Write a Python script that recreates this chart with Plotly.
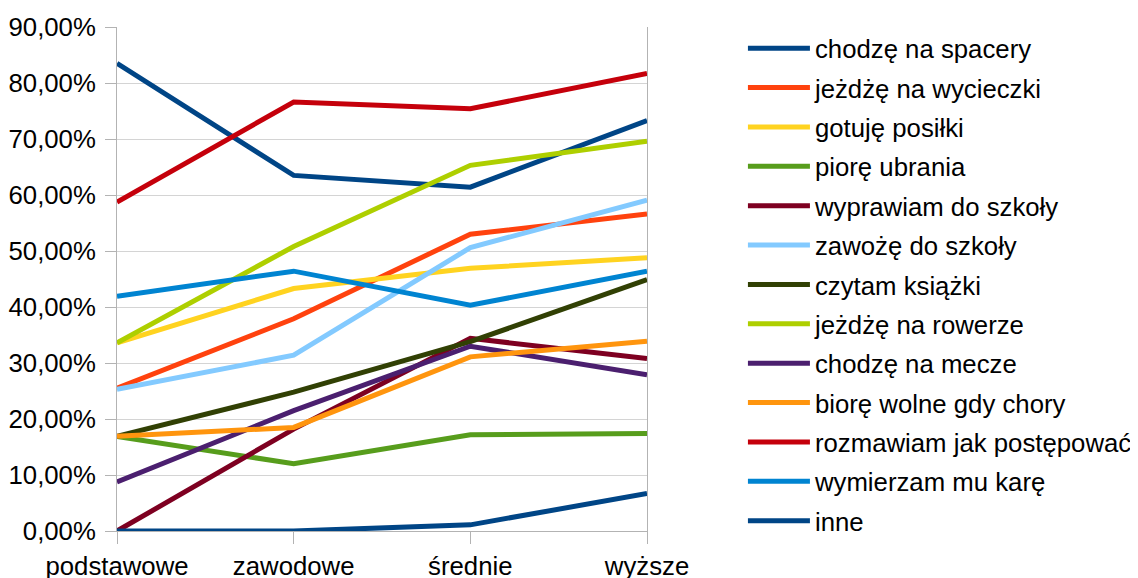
import plotly.graph_objects as go

categories = ["podstawowe", "zawodowe", "średnie", "wyższe"]

series_names = [
    "chodzę na spacery", "jeżdżę na wycieczki", "gotuję posiłki", "piorę ubrania",
    "wyprawiam do szkoły", "zawożę do szkoły", "czytam książki", "jeżdżę na rowerze",
    "chodzę na mecze", "biorę wolne gdy chory", "rozmawiam jak postępować",
    "wymierzam mu karę", "inne",
]

spacery = [0.835, 0.635, 0.614, 0.733]
wycieczki = [0.255, 0.379, 0.530, 0.566]
posilki = [0.336, 0.433, 0.469, 0.488]
ubrania = [0.169, 0.120, 0.172, 0.174]
wyprawiam = [0.0, 0.182, 0.344, 0.308]
zawoze = [0.253, 0.314, 0.506, 0.591]
ksiazki = [0.169, 0.248, 0.338, 0.449]
rowerze = [0.336, 0.508, 0.653, 0.696]
mecze = [0.0875, 0.215, 0.330, 0.279]
wolne = [0.169, 0.185, 0.311, 0.339]
rozmawiam = [0.5875, 0.766, 0.754, 0.817]
kare = [0.419, 0.464, 0.403, 0.464]
inne = [0.0, 0.0, 0.011, 0.067]

values = [spacery, wycieczki, posilki, ubrania, wyprawiam, zawoze, ksiazki,
          rowerze, mecze, wolne, rozmawiam, kare, inne]

colors = ["#004586", "#ff420e", "#ffd320", "#579d1c", "#7e0021", "#83caff",
          "#314004", "#aecf00", "#4b1f6f", "#ff950e", "#c5000b", "#0084d1", "#004586"]

fig = go.Figure()
for i, (name, vals, col) in enumerate(zip(series_names, values, colors)):
    fig.add_trace(go.Scatter(
        x=categories, y=vals, name=name, mode="lines",
        line=dict(color=col, width=5), legendgroup=f"g{i}",
    ))

# page has an 8px body margin, so the figure is 8px smaller on each axis
fig.update_layout(
    width=1130, height=570,
    margin=dict(l=109, r=491, t=19, b=47, autoexpand=False),
    plot_bgcolor="white", paper_bgcolor="white",
    font=dict(family="Liberation Sans, Arial, sans-serif", size=25.75, color="black"),
    separators=", ",
    showlegend=True,
    legend=dict(
        x=1.181, y=1.004, xanchor="left", yanchor="top",
        font=dict(size=25.75), tracegroupgap=2.9, itemwidth=62,
        bgcolor="rgba(0,0,0,0)", maxheight=1.0,
    ),
)
fig.update_xaxes(
    type="category", range=[0, 3], showgrid=False, automargin=False,
    showline=True, linecolor="#b3b3b3", linewidth=1,
    ticks="outside", ticklen=12, tickcolor="#b3b3b3",
    tickfont=dict(size=25.75), zeroline=False,
)
fig.update_yaxes(
    range=[0, 0.9], dtick=0.1, tickformat=".2%", automargin=False,
    showgrid=True, gridcolor="#d4d4d4", gridwidth=1,
    showline=True, linecolor="#b3b3b3", linewidth=1, mirror=True,
    ticks="outside", ticklen=11, tickcolor="#b3b3b3", ticklabelstandoff=4,
    tickfont=dict(size=25.75), zeroline=False,
)

fig.write_html("out.html")
